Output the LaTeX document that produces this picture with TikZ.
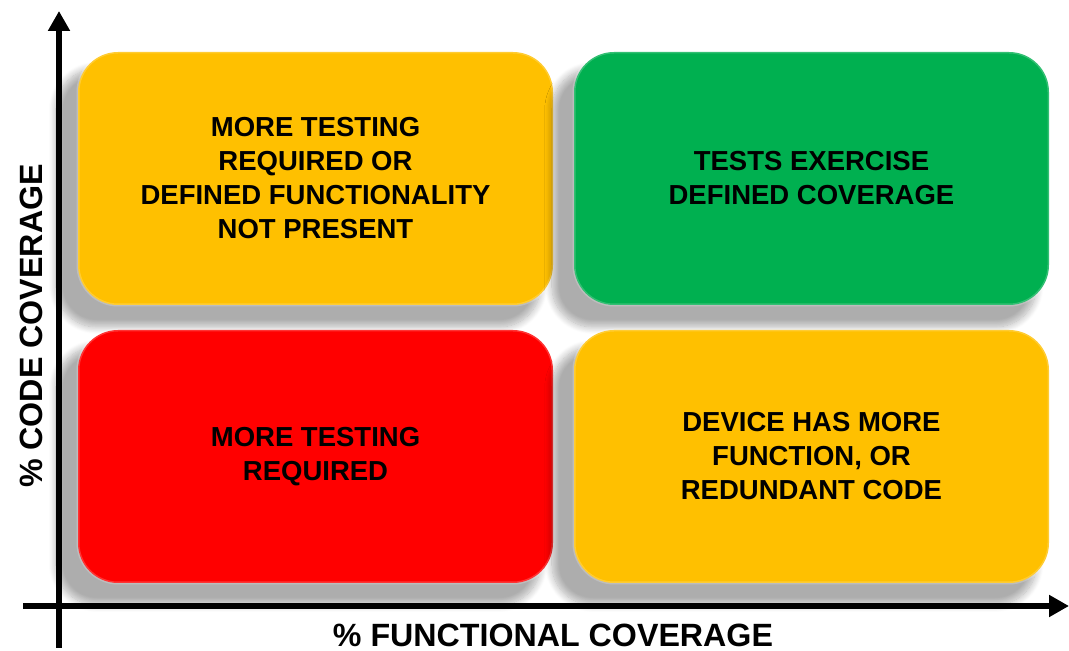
\documentclass[tikz,border=0pt]{standalone}
\usepackage{fontspec}
\setmainfont{Liberation Sans}
\usetikzlibrary{arrows.meta,shadows.blur}

\definecolor{quadorange}{HTML}{FFC000}
\definecolor{quadgreen}{HTML}{00B050}
\definecolor{quadred}{HTML}{FF0000}

\begin{document}
\begin{tikzpicture}
    [x=1pt, y=1pt,
     quad/.style={rounded corners=40pt, align=center, minimum width=475pt,
        minimum height=253pt, inner sep=0pt,
        font=\fontsize{27.5}{34}\selectfont\bfseries,
        blur shadow={shadow xshift=-17pt, shadow yshift=-19pt, shadow scale=1.02,
            shadow blur radius=7pt, shadow blur steps=12, shadow opacity=32},
        postaction={draw=white, draw opacity=.2, line width=3pt}},
     axis/.style={line width=6pt, -{Triangle[width=21pt,length=20pt]}},
     axislabel/.style={font=\fontsize{32.2}{36}\selectfont\bfseries},
    ]
    \useasboundingbox (0,0) rectangle (1069,651);

    \node (notpresent) [quad, fill=quadorange] at (315.5,472.5) {
        MORE TESTING\\
        REQUIRED OR\\
        DEFINED FUNCTIONALITY\\
        NOT PRESENT
    };
    \node (exercise) [quad, fill=quadgreen] at (811.5,472.5) {
        TESTS EXERCISE\\
        DEFINED COVERAGE
    };
    \node (required) [quad, fill=quadred] at (315.5,194.5) {
        MORE TESTING\\
        REQUIRED
    };
    \node (redundant) [quad, fill=quadorange] at (811.5,194.5) {
        DEVICE HAS MORE\\
        FUNCTION, OR\\
        REDUNDANT CODE
    };

    % axes
    \coordinate (ybottom) at (59,3);
    \coordinate (ytop) at (59,640);
    \coordinate (xleft) at (23,45);
    \coordinate (xright) at (1069,45);

    \draw [axis] (ybottom) -- (ytop);
    \draw [axis] (xleft) -- (xright);

    \node (codecov) [axislabel, rotate=90] at (31.5,325) {\% CODE COVERAGE};
    \node (funccov) [axislabel, anchor=base] at (553,5) {\% FUNCTIONAL COVERAGE};

\end{tikzpicture}
\end{document}
